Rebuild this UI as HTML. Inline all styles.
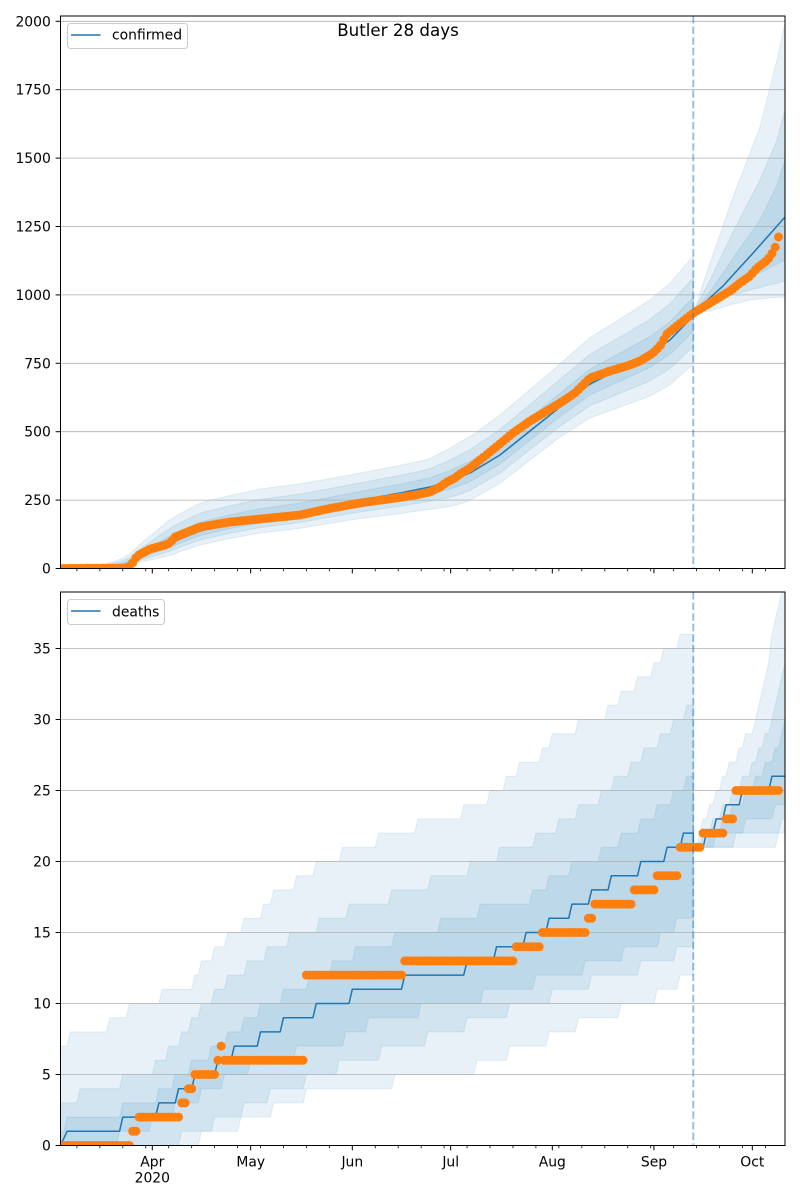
<!DOCTYPE html>
<html><head><meta charset="utf-8">
<style>
html,body{margin:0;padding:0;background:#fff;}
svg{display:block;}
text{font-family:"DejaVu Sans","Liberation Sans",sans-serif;fill:#000;}
</style></head>
<body>
<svg id="c" xmlns="http://www.w3.org/2000/svg" width="800" height="1200" viewBox="0 0 800 1200">
<defs>
<clipPath id="ct"><rect x="60.5" y="16" width="724.5" height="552.5"/></clipPath>
<clipPath id="cb"><rect x="60.5" y="592" width="724.5" height="553.5"/></clipPath>
</defs>
<rect x="0" y="0" width="800" height="1200" fill="#fff"/>
<g id="topBands" clip-path="url(#ct)"></g>
<g id="botBands" clip-path="url(#cb)"></g>
<g id="grid"></g>
<g id="topLines" clip-path="url(#ct)"></g>
<g id="botLines" clip-path="url(#cb)"></g>
<g id="ticks"></g>
<!-- dashed forecast lines -->
<line x1="693.3" y1="16" x2="693.3" y2="568.5" stroke="#1f77b4" stroke-opacity="0.5" stroke-width="1.8" stroke-dasharray="7.4 3.2"/>
<line x1="693.3" y1="592" x2="693.3" y2="1145.5" stroke="#1f77b4" stroke-opacity="0.5" stroke-width="1.8" stroke-dasharray="7.4 3.2"/>
<!-- spines -->
<rect x="60.5" y="16" width="724.5" height="552.5" fill="none" stroke="#000" stroke-width="1"/>
<rect x="60.5" y="592" width="724.5" height="553.5" fill="none" stroke="#000" stroke-width="1"/>
<!-- title -->
<text x="398" y="36" font-size="16.7" text-anchor="middle">Butler 28 days</text>
<!-- top y labels -->
<g font-size="13.9" text-anchor="end">
<text x="50.8" y="573.5">0</text>
<text x="50.8" y="505.1">250</text>
<text x="50.8" y="436.7">500</text>
<text x="50.8" y="368.3">750</text>
<text x="50.8" y="299.9">1000</text>
<text x="50.8" y="231.5">1250</text>
<text x="50.8" y="163.1">1500</text>
<text x="50.8" y="94.7">1750</text>
<text x="50.8" y="26.3">2000</text>
</g>
<!-- bottom y labels -->
<g font-size="13.9" text-anchor="end">
<text x="50.8" y="1150.5">0</text>
<text x="50.8" y="1079.5">5</text>
<text x="50.8" y="1008.5">10</text>
<text x="50.8" y="937.5">15</text>
<text x="50.8" y="866.5">20</text>
<text x="50.8" y="795.5">25</text>
<text x="50.8" y="724.5">30</text>
<text x="50.8" y="653.5">35</text>
</g>
<!-- x labels -->
<g font-size="13.9" text-anchor="middle">
<text x="152.3" y="1166.5">Apr</text>
<text x="152.3" y="1182.5">2020</text>
<text x="250.7" y="1166.5">May</text>
<text x="352.3" y="1166.5">Jun</text>
<text x="450.7" y="1166.5">Jul</text>
<text x="552.3" y="1166.5">Aug</text>
<text x="654.0" y="1166.5">Sep</text>
<text x="752.3" y="1166.5">Oct</text>
</g>
<!-- legends -->
<rect x="67.5" y="23.5" width="120" height="25" rx="3" ry="3" fill="#fff" fill-opacity="0.8" stroke="#cccccc" stroke-width="1"/>
<line x1="71" y1="35" x2="100.5" y2="35" stroke="#1f77b4" stroke-width="1.5"/>
<text x="112" y="39.5" font-size="13.9">confirmed</text>
<rect x="67.5" y="599.5" width="97" height="25" rx="3" ry="3" fill="#fff" fill-opacity="0.8" stroke="#cccccc" stroke-width="1"/>
<line x1="71" y1="611" x2="100.5" y2="611" stroke="#1f77b4" stroke-width="1.5"/>
<text x="112" y="616.5" font-size="13.9">deaths</text>
</svg>
<script>
(function(){
const NS='http://www.w3.org/2000/svg';
const X0=60.5, PXD=3.2787;
const xd=d=>X0+d*PXD;
const yT=v=>568.5-v*0.2736;
const yB=v=>1145.5-v*14.2;
function interp(p,x){ if(x<=p[0][0])return p[0][1]; for(let i=1;i<p.length;i++){ if(x<=p[i][0]){const a=p[i-1],b=p[i];return a[1]+(b[1]-a[1])*(x-a[0])/(b[0]-a[0]);}} return p[p.length-1][1]; }
function el(parent,tag,attrs){const e=document.createElementNS(NS,tag);for(const k in attrs)e.setAttribute(k,attrs[k]);parent.appendChild(e);return e;}
function pts(arr){return arr.map(p=>p[0].toFixed(2)+','+p[1].toFixed(2)).join(' ');}
const A=0.105;
function band(g,up,lo){const poly=up.concat(lo.slice().reverse());el(g,'polygon',{points:pts(poly),fill:'#1f77b4','fill-opacity':A,stroke:'#1f77b4','stroke-opacity':A,'stroke-width':1});}
function fl(a,x){return Math.floor(interp(a,x)+1e-6);}
function st(l,d){let v=l[0][1];for(const s of l){if(d>=s[0])v=s[1];}return v;}

/* ---------- TOP ---------- */
const gTB=document.getElementById('topBands');
const gTL=document.getElementById('topLines');
const medTopH=[[60.5,568.5],[100,567.8],[120,566],[130,563],[140,557],[160,548],[180,539],[200,531],[230,524],[260,518],[300,512],[350,502],[400,493],[430,487],[450,481],[470,473],[500,455],[530,431],[560,407],[590,384],[620,369],[650,354],[670,340],[693.3,316]];
const upO=[[60.5,0],[100,-2],[130,-9],[170,-24],[200,-28],[260,-29],[350,-27],[427,-28],[460,-35],[500,-40],[560,-43],[620,-50],[693.3,-60]];
const loO=[[60.5,0],[100,1],[130,3],[170,12],[200,14],[260,15],[350,18],[427,22],[460,27],[560,30],[620,38],[693.3,48]];
[1,0.64,0.32].forEach(f=>{const up=[],lo=[];for(let d=0;d<=193;d++){const x=xd(d);const m=interp(medTopH,x);up.push([x,m+f*interp(upO,x)]);lo.push([x,m+f*interp(loO,x)]);}band(gTB,up,lo);});
const uo=[[693.3,313],[710,263],[733,197],[760,127],[777,60],[785,23]];
const um=[[693.3,313],[710,280],[733,232],[760,180],[777,140],[785,110]];
const ui=[[693.3,313],[710,292],[733,258],[760,220],[777,185],[785,160]];
const li=[[693.3,313],[720,293],[750,278],[785,260]];
const lm=[[693.3,313],[720,298],[750,290],[785,281]];
const lo=[[693.3,313],[710,311],[730,305],[750,300],[770,298],[785,297]];
[[uo,lo],[um,lm],[ui,li]].forEach(([u,l])=>{const up=[],dn=[];for(let x=693.3;x<=786;x+=1.5){up.push([x,interp(u,x)]);dn.push([x,interp(l,x)]);}band(gTB,up,dn);});
// median
{const p=[];for(let d=0;d<=193;d++){const x=xd(d);p.push([x,interp(medTopH,x)]);}
el(gTL,'polyline',{points:pts(p),fill:'none',stroke:'#1f77b4','stroke-width':1.5,'stroke-linejoin':'round'});
const medTopF=[[693.3,313],[723,286],[754,252],[785,217]];
const q=[];for(let x=693.3;x<=786;x+=2){q.push([x,interp(medTopF,x)]);}
el(gTL,'polyline',{points:pts(q),fill:'none',stroke:'#1f77b4','stroke-width':1.5,'stroke-linejoin':'round'});}
// dots
const dotsTop=[[60.5,568.5],[127,568],[130,566],[134,561],[137,556],[150,549],[165,545],[170,543],[175,537],[190,531],[200,527],[230,522],[260,519],[300,515],[327,509],[360,503],[410,496],[430,492],[440,487],[447,482],[455,478],[460,474],[470,468],[490,452],[513,433],[530,421],[545,412],[560,403],[575,393],[590,378],[610,371],[627,366],[640,361],[653,353],[660,346],[667,334],[677,326],[687,318],[693.3,313],[705,306],[720,297],[730,291],[740,283],[750,276],[757,268],[765,262],[770,257],[775,248],[778.5,237]];
for(let d=0;d<=219;d++){const x=xd(d);el(gTL,'circle',{cx:x.toFixed(2),cy:interp(dotsTop,x).toFixed(2),r:4.5,fill:'#ff7f0e'});}

/* ---------- BOTTOM ---------- */
const gBB=document.getElementById('botBands');
const gBL=document.getElementById('botLines');
const U3=[[0,7],[3,8],[15,9],[21,10],[31,11],[41,12],[43,13],[47,14],[51,15],[56,16],[62,17],[65,18],[72,19],[78,20],[86,21],[97,22],[109,23],[123,24],[131,25],[136,26],[140,27],[147,28],[150,29],[158,30],[167,31],[171,32],[176,33],[181,34],[184,35],[189,36]];
const L3=[[0,0],[43,1],[55,2],[65,3],[75,4],[102,5],[127,6],[137,7],[149,8],[158,9],[171,10],[182,11],[189,12]];
const U2h=[[60.5,3],[77,4],[122,5],[153,6],[167,7],[180,8],[195,9.5],[225,12],[247,13],[267,14],[290,15],[317,16],[347,17],[390,18],[430,19],[470,20],[498,21],[535,22],[600,25],[693.3,31.5]];
const U1h=[[60.5,1],[67,2],[122,3],[158,4],[200,6.5],[260,10],[330,13],[355,14],[393,15],[438,16],[478,17],[532,18],[548,19],[570,20],[600,21],[640,23],[693.3,26.5]];
const L1h=[[60.5,0],[110,0.8],[150,2],[200,4],[260,6.5],[330,7.5],[380,9.5],[462,10.5],[503,11.5],[563,12.5],[622,14],[658,15],[693.3,17]];
const L2h=[[60.5,0],[150,0.3],[200,1.5],[270,4],[330,5.8],[380,7],[425,8],[465,9],[508,10],[550,11],[590,12],[640,13],[693.3,14.5]];
const hb=[[d=>st(U3,d),d=>st(L3,d)],[d=>fl(U2h,xd(d)),d=>fl(L2h,xd(d))],[d=>fl(U1h,xd(d)),d=>fl(L1h,xd(d))]];
hb.forEach(([fu,fd])=>{const up=[],dn=[];for(let d=0;d<=193;d++){up.push([xd(d),yB(fu(d))]);dn.push([xd(d),yB(fd(d))]);}band(gBB,up,dn);});
const U3f=[[693.3,21],[700,23],[715,25],[725,26.5],[740,28.5],[753,30],[767,34],[778,38.5],[785,40.5]];
const U2f=[[693.3,21],[710,23],[730,25],[750,27],[760,28.5],[775,31],[785,34]];
const U1f=[[693.3,21],[720,23],[745,25],[770,27.5],[785,30]];
const L1f=[[693.3,21],[715,22],[745,23],[775,24],[785,24.5]];
const L2f=[[693.3,21],[733,22],[780,23],[785,23]];
const L3f=[[693.3,21],[777,21.9],[778,22],[785,22]];
[[U3f,L3f],[U2f,L2f],[U1f,L1f]].forEach(([u,l])=>{const up=[],dn=[];for(let d=193;d<=221;d++){const x=xd(d);up.push([x,yB(fl(u,x))]);dn.push([x,yB(fl(l,x))]);}band(gBB,up,dn);});
// median
const MB=[[0,0],[1,0.5],[2,1],[19,2],[30,3],[36,4],[41,5],[48,6],[53,7],[61,8],[68,9],[78,10],[89,11],[105,12],[124,13],[133,14],[142,15],[149,16],[156,17],[162,18],[168,19],[177,20],[185,21],[190,22]];
const MF=[[193,21],[197,22],[200,23],[203,24],[208,25],[217,26]];
{const p=[];for(let d=0;d<=193;d++)p.push([xd(d),yB(st(MB,d))]);for(let d=193;d<=221;d++)p.push([xd(d),yB(st(MF,d))]);
el(gBL,'polyline',{points:pts(p),fill:'none',stroke:'#1f77b4','stroke-width':1.5,'stroke-linejoin':'round'});}
const DR=[[0,21,0],[22,23,1],[24,36,2],[37,38,3],[39,40,4],[41,47,5],[48,48,6],[49,49,7],[50,74,6],[75,104,12],[105,138,13],[139,146,14],[147,160,15],[161,162,16],[163,174,17],[175,181,18],[182,188,19],[189,195,21],[196,202,22],[203,205,23],[206,219,25]];
DR.forEach(([a,b,v])=>{for(let d=a;d<=b;d++){el(gBL,'circle',{cx:xd(d).toFixed(2),cy:yB(v).toFixed(2),r:4.5,fill:'#ff7f0e'});}});

/* ---------- GRID ---------- */
const gG=document.getElementById('grid');
for(let v=0;v<=2000;v+=250){const y=yT(v);el(gG,'line',{x1:60.5,x2:785,y1:y,y2:y,stroke:'#b0b0b0','stroke-width':0.8});}
for(let v=0;v<=35;v+=5){const y=yB(v);el(gG,'line',{x1:60.5,x2:785,y1:y,y2:y,stroke:'#b0b0b0','stroke-width':0.8});}

/* ---------- TICKS ---------- */
const gK=document.getElementById('ticks');
for(let v=0;v<=2000;v+=250){const y=yT(v);el(gK,'line',{x1:55.6,x2:60.5,y1:y,y2:y,stroke:'#000','stroke-width':1});}
for(let v=0;v<=35;v+=5){const y=yB(v);el(gK,'line',{x1:55.6,x2:60.5,y1:y,y2:y,stroke:'#000','stroke-width':1});}
const major=[28,58,89,119,150,181,211];
[568.5,1145.5].forEach(yb=>{
  major.forEach(d=>{const x=xd(d);el(gK,'line',{x1:x,x2:x,y1:yb,y2:yb+4.9,stroke:'#000','stroke-width':1});});
  for(let d=5;d<=221;d+=7){if(major.indexOf(d)>=0)continue;const x=xd(d);el(gK,'line',{x1:x,x2:x,y1:yb,y2:yb+2.8,stroke:'#000','stroke-width':0.8});}
});
})();
</script>
</body></html>
